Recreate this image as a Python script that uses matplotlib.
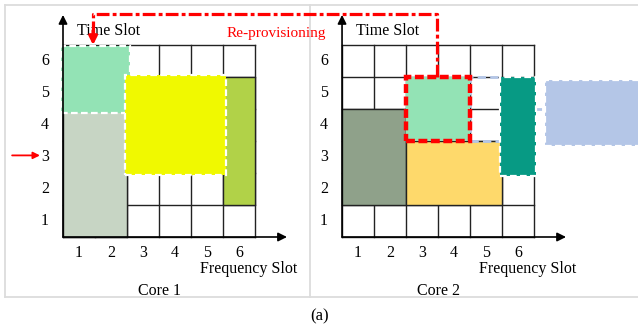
import matplotlib
matplotlib.use("Agg")
import matplotlib.pyplot as plt
from matplotlib.patches import Rectangle

plt.rcParams['font.family'] = ['Liberation Serif', 'DejaVu Serif']

# ---- data (slot units: frequency start, time start, width, height) ----
n_freq = 6
n_time = 6
freq_ticks = ['1', '2', '3', '4', '5', '6']
time_ticks = ['1', '2', '3', '4', '5', '6']
core_names = ['Core 1', 'Core 2']
core_offsets = [0.0, 8.72]

# core 1 blocks
core1_solid = [  # (f0, t0, w, h, colour)
    (0, 0, 2, 4, '#c7d5c4'),
    (5, 1, 1, 4, '#b1d248'),
]
core1_dashed = [
    (-0.06, 3.87, 2.16, 2.10, '#93e3b5'),
    (1.94, 1.94, 3.15, 3.12, '#f0f900'),
]
# core 2 blocks
core2_solid = [
    (0, 1, 2, 3, '#8fa18a'),
    (2, 1, 3, 2, '#fed96b'),
]
core2_dashed = [
    (4.95, 1.90, 1.10, 3.10, '#079a84'),
    (6.34, 2.84, 3.30, 2.06, '#b4c6e7'),
]
core2_moved = (2, 3, 2, 2, '#93e3b5')      # re-provisioned block (red border)
core2_ghost = (4, 3, 1, 2)                  # light-blue dashed outline

W, H = 638, 327
fig = plt.figure(figsize=(W / 100, H / 100), dpi=100)
ax = fig.add_axes([0, 0, 1, 1])
px = 32.0
ax.set_xlim(-63 / px, (W - 63) / px)
ax.set_ylim((237 - H) / px, 237 / px)
ax.axis('off')

serif = 11.5

# panel frames
left, right, top, bottom, sep = -1.81, 18.5, 7.25, -1.875, 7.72
fc = '#dcdcdc'
ax.plot([left, right], [top, top], color=fc, lw=1.3, zorder=0)
ax.plot([left, right], [bottom, bottom], color=fc, lw=1.3, zorder=0)
ax.plot([left, left], [bottom, top], color=fc, lw=1.3, zorder=0)
ax.plot([sep, sep], [bottom, top], color=fc, lw=1.3, zorder=0)

for ci, off in enumerate(core_offsets):
    # grid
    for i in range(n_freq + 1):
        ax.plot([off + i, off + i], [0, n_time], color='#222222', lw=1.0, zorder=1)
    for j in range(n_time + 1):
        ax.plot([off, off + n_freq], [j, j], color='#222222', lw=1.0, zorder=1)
    # axes arrows
    ax.annotate('', xy=(off, 6.94), xytext=(off, 0),
                arrowprops=dict(arrowstyle='-|>', color='black', lw=1.2,
                                mutation_scale=13, shrinkA=0, shrinkB=0), zorder=6)
    ax.annotate('', xy=(off + 7.0, 0), xytext=(off, 0),
                arrowprops=dict(arrowstyle='-|>', color='black', lw=1.2,
                                mutation_scale=13, shrinkA=0, shrinkB=0), zorder=6)
    # tick labels
    for k, lab in enumerate(freq_ticks):
        ax.text(off + k + 0.5, -0.5, lab, ha='center', va='center', fontsize=serif)
    for k, lab in enumerate(time_ticks):
        ax.text(off - 0.56, k + 0.5, lab, ha='center', va='center', fontsize=serif)
    ax.text(off + 0.44, 6.44, 'Time Slot', ha='left', va='center', fontsize=serif)
    ax.text(off + 4.27, -1.0, 'Frequency Slot', ha='left', va='center', fontsize=serif)
    ax.text(off + 3.0, -1.69, core_names[ci], ha='center', va='center', fontsize=serif)


def draw_solid(blocks, off):
    for f0, t0, w, h, c in blocks:
        ax.add_patch(Rectangle((off + f0, t0), w, h, facecolor=c,
                               edgecolor='#222222', lw=1.0, zorder=2))


def draw_dashed(blocks, off, z=3):
    for f0, t0, w, h, c in blocks:
        ax.add_patch(Rectangle((off + f0, t0), w, h, facecolor=c, edgecolor='none', zorder=z))
        ax.add_patch(Rectangle((off + f0, t0), w, h, facecolor='none',
                               edgecolor='white', lw=1.6, ls=(0, (3, 1.5)), zorder=z))


o1, o2 = core_offsets
draw_solid(core1_solid, o1)
draw_dashed(core1_dashed, o1)
draw_solid(core2_solid, o2)

# ghost outline (light blue dashed)
gf, gt, gw, gh = core2_ghost
ax.add_patch(Rectangle((o2 + gf, gt), gw, gh, facecolor='none', edgecolor='#b4c6e7',
                       lw=2.0, ls=(0, (3, 1.5)), zorder=2.5))
draw_dashed(core2_dashed, o2)
# connector between teal and light-blue block
ax.plot([o2 + 6.05, o2 + 6.34], [4.0, 4.0], color='#b4c6e7', lw=2.0,
        ls=(0, (2, 1.5)), zorder=2.5)

# re-provisioned block
mf, mt, mw, mh, mc = core2_moved
ax.add_patch(Rectangle((o2 + mf, mt), mw, mh, facecolor=mc, edgecolor='none', zorder=3))
ax.add_patch(Rectangle((o2 + mf, mt), mw, mh, facecolor='none', edgecolor='#ff0000',
                       lw=3.2, ls=(0, (2, 0.8)), zorder=4))

# re-provisioning path
path_f = [o2 + 2.97, o2 + 2.97, o1 + 0.94, o1 + 0.94]
path_t = [5.0, 6.97, 6.97, 6.35]
ax.plot(path_f, path_t, color='#ff0000', lw=2.3, ls=(0, (4, 1, 1.2, 1)), zorder=5)
ax.annotate('', xy=(o1 + 0.94, 6.0), xytext=(o1 + 0.94, 6.45),
            arrowprops=dict(arrowstyle='-|>', color='#ff0000', lw=2.3,
                            mutation_scale=12, shrinkA=0, shrinkB=0), zorder=6)
ax.text(o1 + 6.66, 6.37, 'Re-provisioning', color='#ff0000', ha='center',
        va='center', fontsize=11)

# small red arrow pointing at slot 3
ax.annotate('', xy=(o1 - 0.72, 2.55), xytext=(o1 - 1.59, 2.55),
            arrowprops=dict(arrowstyle='-|>', color='#ff0000', lw=1.3,
                            mutation_scale=10, shrinkA=0, shrinkB=0), zorder=6)

ax.text(8.03, -2.47, '(a)', ha='center', va='center', fontsize=12)

fig.savefig('out.png', dpi=100)
